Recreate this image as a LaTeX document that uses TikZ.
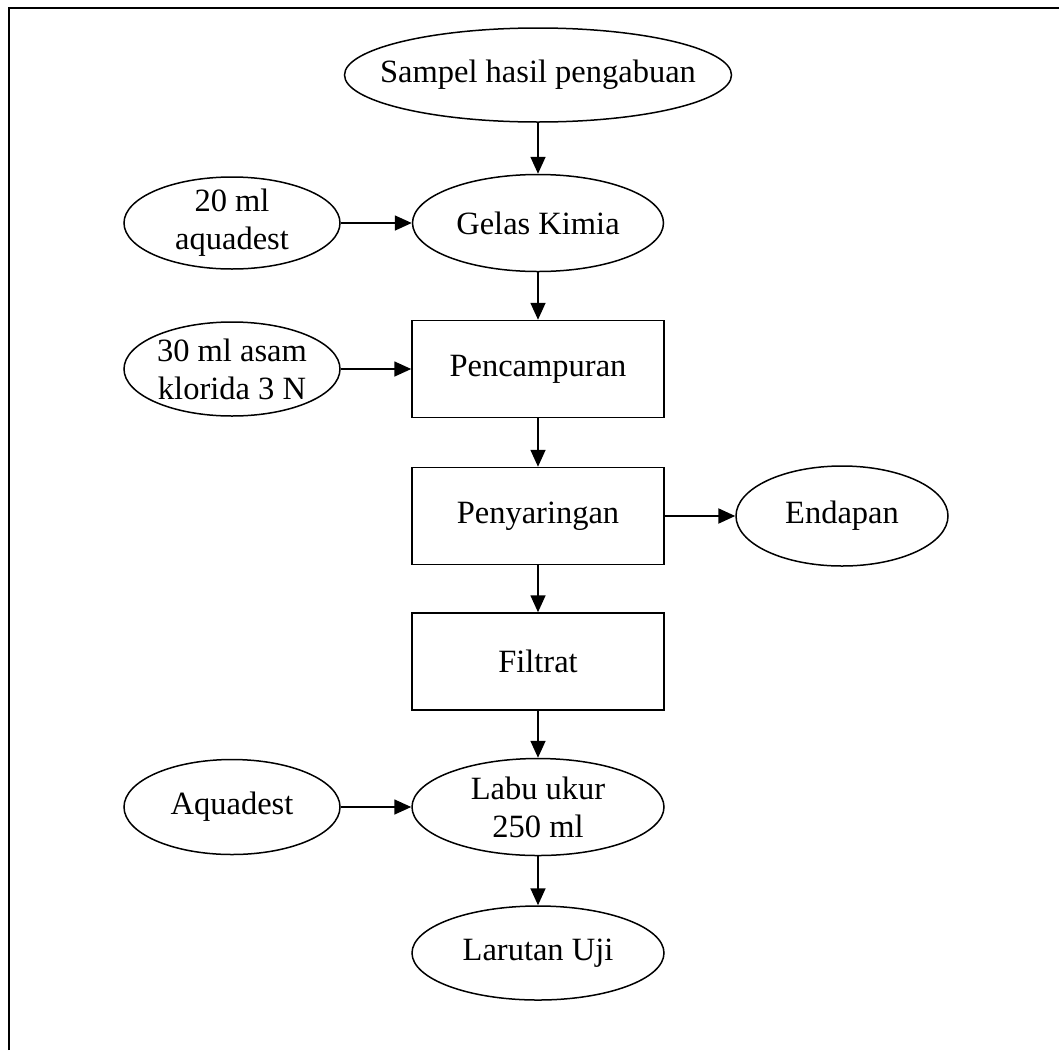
\documentclass[tikz,border=0pt]{standalone}
\usepackage{fontspec}
\setmainfont{Liberation Serif}
\usetikzlibrary{shapes.geometric,arrows.meta}
\begin{document}
\begin{tikzpicture}[x=1pt,y=-1pt,
  shp/.style={draw,line width=1.5pt},
  ell/.style={shp,ellipse,inner sep=0pt},
  box/.style={shp,rectangle,inner sep=0pt,minimum width=252pt,minimum height=97pt,font=\fontsize{32.5}{38}\selectfont},
  txt/.style={align=center,font=\fontsize{32.5}{38}\selectfont,inner sep=0pt},
  arr/.style={line width=1.7pt,-{Triangle[length=17pt,width=15pt]}}]
\useasboundingbox (0,0) rectangle (1059,1050);
% frame
\draw[line width=2.5pt] (9,1050) -- (9,8) -- (1059,8);
% nodes
\node[ell,minimum width=387pt,minimum height=94pt] (s) at (538,75) {};
\node[txt] (st) at (s) {Sampel hasil pengabuan};
\node[ell,minimum width=251pt,minimum height=97pt] (g) at (538,223) {};
\node[txt] (gt) at (g) {Gelas Kimia};
\node[ell,minimum width=216pt,minimum height=92pt] (a20) at (232,223) {};
\node[txt] (a20t) at (a20) {20 ml\\aquadest};
\node[box] (p) at (538,369) {Pencampuran};
\node[ell,minimum width=216pt,minimum height=94pt] (hcl) at (232,369) {};
\node[txt] (hclt) at (hcl) {30 ml asam\\klorida 3 N};
\node[box] (py) at (538,516) {Penyaringan};
\node[ell,minimum width=212pt,minimum height=100pt] (e) at (842,516) {};
\node[txt] (et) at (e) {Endapan};
\node[box] (f) at (538,661.5) {Filtrat};
\node[ell,minimum width=252pt,minimum height=97pt] (l) at (538,807) {};
\node[txt] (lt) at (l) {Labu ukur\\250 ml};
\node[ell,minimum width=216pt,minimum height=95pt] (aq) at (232,807) {};
\node[txt] (aqt) at (aq) {Aquadest};
\node[ell,minimum width=252pt,minimum height=94pt] (u) at (538,953) {};
\node[txt] (ut) at (u) {Larutan Uji};
% arrows
\draw[arr] (s) -- (g);
\draw[arr] (a20) -- (g);
\draw[arr] (g) -- (p);
\draw[arr] (hcl) -- (p);
\draw[arr] (p) -- (py);
\draw[arr,line width=2.2pt] (py) -- (e);
\draw[arr] (py) -- (f);
\draw[arr] (f) -- (l);
\draw[arr] (aq) -- (l);
\draw[arr] (l) -- (u);
\end{tikzpicture}
\end{document}
